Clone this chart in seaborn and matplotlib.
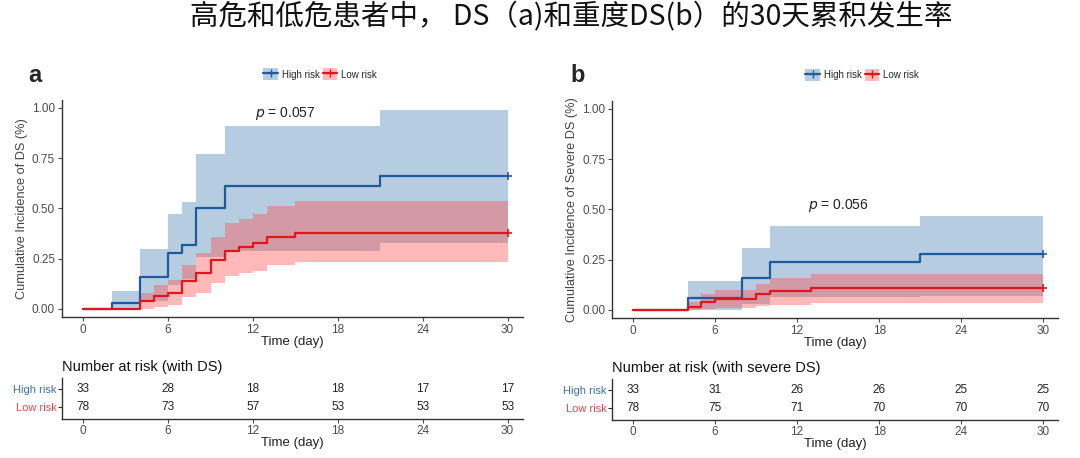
import numpy as np
import pandas as pd
import matplotlib
matplotlib.use("Agg")
import matplotlib.pyplot as plt
from matplotlib.lines import Line2D
from matplotlib.patches import Patch
import seaborn as sns

sns.set_theme(style="ticks")
plt.rcParams['font.family'] = ['Liberation Sans', 'Noto Sans CJK SC', 'DejaVu Sans']

# ---- data ----
groups = ["High risk", "Low risk"]
time_ticks = [0, 6, 12, 18, 24, 30]

# panel a: DS
ha_t = [0, 2, 4, 6, 7, 8, 10, 21, 30]
ha_y = [0, 0.03, 0.16, 0.28, 0.32, 0.50, 0.61, 0.66, 0.66]
ha_lo = [0, 0, 0.04, 0.12, 0.15, 0.26, 0.29, 0.33, 0.33]
ha_hi = [0, 0.09, 0.30, 0.47, 0.53, 0.77, 0.91, 0.99, 0.99]

la_t = [0, 4, 5, 6, 7, 8, 9, 10, 11, 12, 13, 15, 30]
la_y = [0, 0.04, 0.065, 0.08, 0.14, 0.18, 0.245, 0.29, 0.31, 0.33, 0.36, 0.38, 0.38]
la_lo = [0, 0, 0.01, 0.017, 0.06, 0.08, 0.13, 0.163, 0.18, 0.19, 0.218, 0.234, 0.234]
la_hi = [0, 0.077, 0.118, 0.143, 0.22, 0.28, 0.36, 0.425, 0.445, 0.47, 0.513, 0.537, 0.537]

# panel b: severe DS
hb_t = [0, 4, 8, 10, 21, 30]
hb_y = [0, 0.06, 0.16, 0.24, 0.278, 0.278]
hb_lo = [0, 0.0, 0.03, 0.065, 0.07, 0.07]
hb_hi = [0, 0.145, 0.307, 0.415, 0.467, 0.467]

lb_t = [0, 4, 5, 6, 9, 10, 13, 30]
lb_y = [0, 0.012, 0.037, 0.053, 0.078, 0.095, 0.108, 0.108]
lb_lo = [0, 0, 0.002, 0.008, 0.02, 0.025, 0.033, 0.033]
lb_hi = [0, 0.04, 0.08, 0.10, 0.128, 0.16, 0.18, 0.18]

# number at risk
risk_a_high = [33, 28, 18, 18, 17, 17]
risk_a_low = [78, 73, 57, 53, 53, 53]
risk_b_high = [33, 31, 26, 26, 25, 25]
risk_b_low = [78, 75, 71, 70, 70, 70]

p_a = "0.057"
p_b = "0.056"

line_cols = {"High risk": "#1f5a9e", "Low risk": "#e0161c"}
fill_cols = {"High risk": "#4a80b2", "Low risk": "#ff5050"}
label_cols = {"High risk": "#3d72a8", "Low risk": "#dc4a4f"}
text_gray = "#4d4d4d"

fig = plt.figure(figsize=(10.8, 4.58), dpi=100)
fig.text(0.529, 0.962, "高危和低危患者中， DS（a)和重度DS(b）的30天累积发生率",
         ha="center", va="center", fontsize=20.5,
         family=['Noto Sans CJK SC', 'DejaVu Sans'], color="#111111")


def draw_panel(ax, curves, ylabel, p, p_xy):
    for name, (t, y, lo, hi) in curves.items():
        ax.fill_between(t, lo, hi, step="post", color=fill_cols[name],
                        alpha=0.4, linewidth=0)
        df = pd.DataFrame({"time": t, "inc": y})
        sns.lineplot(data=df, x="time", y="inc", drawstyle="steps-post",
                     color=line_cols[name], linewidth=1.6, estimator=None,
                     ax=ax, legend=False)
        ax.plot(t[-1], y[-1], marker="+", color=line_cols[name],
                markersize=6, markeredgewidth=1.2)
    ax.set_xlim(-1.5, 31.1)
    ax.set_ylim(-0.04, 1.04)
    ax.set_xticks(time_ticks)
    ax.set_yticks([0, 0.25, 0.5, 0.75, 1.0])
    ax.set_yticklabels(["0.00", "0.25", "0.50", "0.75", "1.00"])
    ax.tick_params(labelsize=8.5, colors=text_gray, length=3, width=0.8, pad=2)
    ax.set_xlabel("Time (day)", fontsize=9.5, color="#222222", labelpad=0)
    ax.set_ylabel(ylabel, fontsize=9.2, color="#444444", labelpad=3)
    for s in ["top", "right"]:
        ax.spines[s].set_visible(False)
    for s in ["left", "bottom"]:
        ax.spines[s].set_color("#333333")
        ax.spines[s].set_linewidth(1.0)
    ax.text(p_xy[0], p_xy[1], f"$p$ = {p}", ha="center", va="center",
            fontsize=10, color="#222222")
    handles = []
    for name in groups:
        handles.append((Patch(facecolor=fill_cols[name], alpha=0.4, edgecolor="none"),
                        Line2D([], [], color=line_cols[name], marker="+",
                               linewidth=1.6, markersize=6)))
    ax.legend(handles, groups, loc="lower center", bbox_to_anchor=(0.56, 1.05),
              ncol=2, frameon=False, fontsize=7, handlelength=1.5,
              handleheight=1.5, columnspacing=0.3, handletextpad=0.4)


def draw_table(ax, high, low, title):
    sns.despine(ax=ax)
    for xv, hv, lv in zip(time_ticks, high, low):
        ax.text(xv, 1, str(hv), ha="center", va="center", fontsize=8.5, color="#222222")
        ax.text(xv, 0, str(lv), ha="center", va="center", fontsize=8.5, color="#222222")
    ax.set_xlim(-1.5, 31.1)
    ax.set_ylim(-0.7, 1.65)
    ax.set_xticks(time_ticks)
    ax.set_yticks([1, 0])
    ax.set_yticklabels(groups)
    for lab, name in zip(ax.get_yticklabels(), groups):
        lab.set_color(label_cols[name])
    ax.tick_params(labelsize=8, length=3, width=0.8, pad=1)
    ax.tick_params(axis="x", colors=text_gray, labelsize=8.5)
    ax.set_xlabel("Time (day)", fontsize=9.5, color="#222222", labelpad=0)
    for s in ["left", "bottom"]:
        ax.spines[s].set_color("#333333")
        ax.spines[s].set_linewidth(1.0)
    ax.set_title(title, loc="left", fontsize=10.5, color="#111111", pad=5)


# panel a
ax_a = fig.add_axes([0.0574, 0.308, 0.427, 0.474])
draw_panel(ax_a, {"High risk": (ha_t, ha_y, ha_lo, ha_hi),
                  "Low risk": (la_t, la_y, la_lo, la_hi)},
           "Cumulative Incidence of DS (%)", p_a, (14.3, 0.97))
tab_a = fig.add_axes([0.0574, 0.085, 0.427, 0.09])
draw_table(tab_a, risk_a_high, risk_a_low, "Number at risk (with DS)")

# panel b
ax_b = fig.add_axes([0.567, 0.306, 0.413, 0.474])
draw_panel(ax_b, {"High risk": (hb_t, hb_y, hb_lo, hb_hi),
                  "Low risk": (lb_t, lb_y, lb_lo, lb_hi)},
           "Cumulative Incidence of Severe DS (%)", p_b, (15.0, 0.52))
tab_b = fig.add_axes([0.567, 0.083, 0.413, 0.09])
draw_table(tab_b, risk_b_high, risk_b_low, "Number at risk (with severe DS)")

fig.text(0.026, 0.835, "a", fontsize=17, fontweight="bold", ha="left", va="center")
fig.text(0.528, 0.835, "b", fontsize=17, fontweight="bold", ha="left", va="center")

fig.savefig("out.png", dpi=100)
